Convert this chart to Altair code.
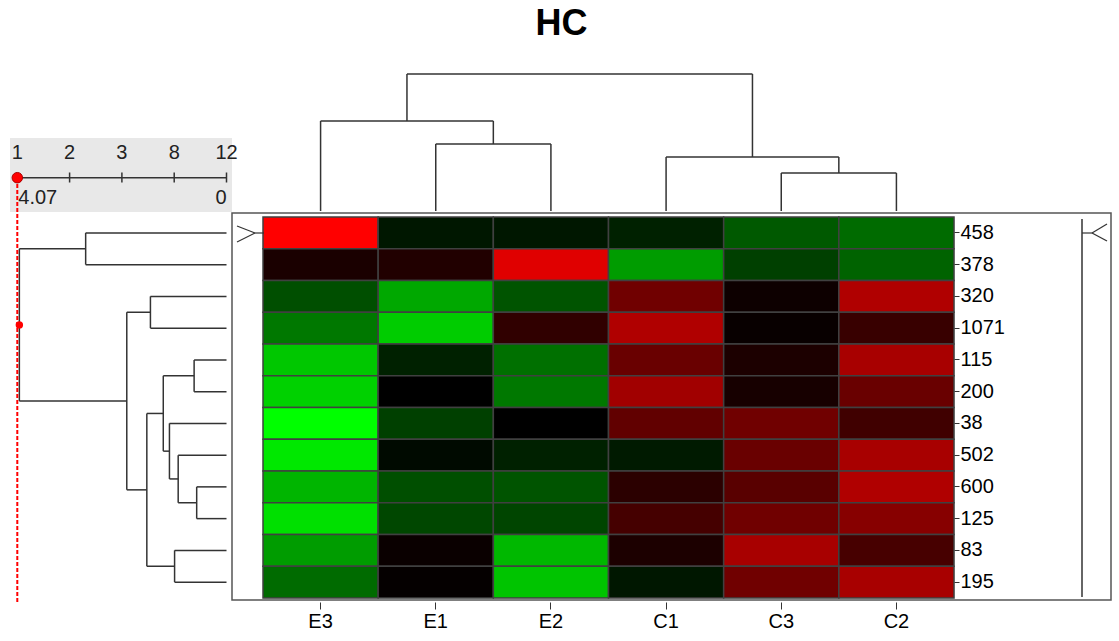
import altair as alt
import pandas as pd

# ---------------- data ----------------
col_labels = ["E3", "E1", "E2", "C1", "C3", "C2"]
row_labels = ["458", "378", "320", "1071", "115", "200", "38", "502", "600", "125", "83", "195"]

# expression values (green < 0 < red), one list per column, rows in row_labels order
E3 = [1.00, 0.10, -0.31, -0.47, -0.78, -0.82, -1.00, -0.91, -0.71, -0.88, -0.61, -0.42]
E1 = [-0.09, 0.13, -0.66, -0.80, -0.13, 0.00, -0.25, -0.04, -0.31, -0.28, 0.04, 0.02]
E2 = [-0.09, 0.88, -0.33, 0.19, -0.44, -0.47, 0.00, -0.13, -0.33, -0.27, -0.72, -0.77]
C1 = [-0.13, -0.61, 0.44, 0.69, 0.41, 0.63, 0.38, -0.10, 0.17, 0.27, 0.11, -0.09]
C3 = [-0.35, -0.25, 0.05, 0.03, 0.11, 0.09, 0.44, 0.41, 0.35, 0.44, 0.66, 0.44]
C2 = [-0.42, -0.39, 0.69, 0.22, 0.66, 0.41, 0.25, 0.66, 0.69, 0.53, 0.28, 0.66]
col_values = [E3, E1, E2, C1, C3, C2]

# dendrograms: (merge height, left, right)
col_tree = (1.00, (0.657, "E3", (0.489, "E1", "E2")),
            (0.394, "C1", (0.277, "C3", "C2")))
row_tree = (4.03, (2.74, "458", "378"),
            (1.94, (1.48, "320", "1071"),
             (1.55, (1.23, (0.63, "115", "200"),
                     (1.11, "38", (0.94, "502", (0.58, "600", "125")))),
              (1.01, "83", "195"))))

cut_max = 4.07
cut_labels = ["1", "2", "3", "8", "12"]
cut_positions = [4.07, 3.0525, 2.035, 1.0175, 0.0]

# ---------------- helpers ----------------
def dendro(tree, order):
    segs = []

    def walk(node):
        if isinstance(node, str):
            return order.index(node) + 0.5, 0.0
        h, a, b = node
        pa, ha = walk(a)
        pb, hb = walk(b)
        segs.append(dict(p1=pa, p2=pa, h1=ha, h2=h))
        segs.append(dict(p1=pb, p2=pb, h1=hb, h2=h))
        segs.append(dict(p1=pa, p2=pb, h1=h, h2=h))
        return (pa + pb) / 2, h

    root = walk(tree)
    return pd.DataFrame(segs), root


heat = pd.DataFrame(
    [dict(col=c, row=r, value=col_values[i][j])
     for i, c in enumerate(col_labels) for j, r in enumerate(row_labels)]
)
top_segs, top_root = dendro(col_tree, col_labels)
left_segs, left_root = dendro(row_tree, row_labels)

W, H = 691, 381
FONT = "Liberation Sans"
LINE = "#333333"
FS = 20

one = pd.DataFrame({"a": [0]})

# distance scale for the left dendrogram & the cut slider
dist_scale = alt.Scale(domain=[0, cut_max], range=[-36.5, -245.7])
row_pos_scale = alt.Scale(domain=[0, len(row_labels)], range=[0, H])

# ---------------- layers ----------------
frame = alt.Chart(one).mark_rect(filled=False, stroke="#555555", strokeWidth=1.5).encode(
    x=alt.value(-31), x2=alt.value(848), y=alt.value(-4), y2=alt.value(383)
)

heatmap = alt.Chart(heat).mark_rect(stroke="#404040", strokeWidth=1.5).encode(
    x=alt.X("col:N", sort=col_labels,
            scale=alt.Scale(paddingInner=0, paddingOuter=0),
            axis=alt.Axis(title=None, orient="bottom", offset=4, tickSize=7, domain=False,
                          labelFontSize=FS, labelFont=FONT, labelColor="black",
                          tickColor=LINE, labelPadding=2, labelAngle=0, grid=False)),
    y=alt.Y("row:N", sort=row_labels,
            scale=alt.Scale(paddingInner=0, paddingOuter=0),
            axis=alt.Axis(title=None, orient="right", tickSize=5, domain=False,
                          labelFontSize=FS, labelFont=FONT, labelColor="black",
                          tickColor=LINE, labelPadding=1, grid=False)),
    color=alt.Color("value:Q",
                    scale=alt.Scale(domain=[-1, 0, 1],
                                    range=["#00ff00", "#000000", "#ff0000"],
                                    interpolate="rgb"),
                    legend=None),
)

top_dendro = alt.Chart(top_segs).mark_rule(color=LINE, strokeWidth=1.5).encode(
    x=alt.X("p1:Q", scale=alt.Scale(domain=[0, len(col_labels)], range=[0, W]), axis=None),
    x2="p2:Q",
    y=alt.Y("h1:Q", scale=alt.Scale(domain=[0, 1], range=[-6, -143]), axis=None),
    y2="h2:Q",
)

left_dendro = alt.Chart(left_segs).mark_rule(color=LINE, strokeWidth=1.5).encode(
    y=alt.Y("p1:Q", scale=row_pos_scale, axis=None),
    y2="p2:Q",
    x=alt.X("h1:Q", scale=dist_scale, axis=None),
    x2="h2:Q",
)

root_df = pd.DataFrame({"h": [left_root[1]], "p": [left_root[0]]})
root_dot = alt.Chart(root_df).mark_point(filled=True, color="#ff0000", size=55, opacity=1).encode(
    x=alt.X("h:Q", scale=dist_scale, axis=None),
    y=alt.Y("p:Q", scale=row_pos_scale, axis=None),
)

# cut slider box
slider_bg = alt.Chart(one).mark_rect(color="#e8e8e8").encode(
    x=alt.value(-253), x2=alt.value(-31), y=alt.value(-79), y2=alt.value(-5)
)
cut_df = pd.DataFrame({"d": cut_positions, "lab": cut_labels})
slider_line = alt.Chart(pd.DataFrame({"d1": [cut_max], "d2": [0.0]})).mark_rule(
    color=LINE, strokeWidth=1.5).encode(
    x=alt.X("d1:Q", scale=dist_scale, axis=None), x2="d2:Q", y=alt.value(-39.3)
)
slider_ticks = alt.Chart(cut_df.iloc[1:]).mark_rule(color=LINE, strokeWidth=1.5).encode(
    x=alt.X("d:Q", scale=dist_scale, axis=None), y=alt.value(-44.5), y2=alt.value(-34.5)
)
slider_text = alt.Chart(cut_df).mark_text(font=FONT, fontSize=FS, color="#222222",
                                          baseline="middle", align="center").encode(
    x=alt.X("d:Q", scale=dist_scale, axis=None), y=alt.value(-64), text="lab:N"
)
range_df = pd.DataFrame({"d": [cut_max, 0.0], "lab": ["4.07", "0"]})
slider_min = alt.Chart(range_df.iloc[:1]).mark_text(font=FONT, fontSize=FS, color="#222222",
                                                    baseline="middle", align="left", dx=1).encode(
    x=alt.X("d:Q", scale=dist_scale, axis=None), y=alt.value(-19), text="lab:N"
)
slider_max = alt.Chart(range_df.iloc[1:]).mark_text(font=FONT, fontSize=FS, color="#222222",
                                                    baseline="middle", align="right").encode(
    x=alt.X("d:Q", scale=dist_scale, axis=None), y=alt.value(-19), text="lab:N"
)
cut_line = alt.Chart(pd.DataFrame({"d": [cut_max]})).mark_rule(
    color="#ff0000", strokeWidth=2, strokeDash=[4, 2]).encode(
    x=alt.X("d:Q", scale=dist_scale, axis=None), y=alt.value(-39), y2=alt.value(387)
)
cut_dot = alt.Chart(pd.DataFrame({"d": [cut_max]})).mark_point(
    filled=True, color="#ff0000", size=110, opacity=1, stroke="#aa0000", strokeWidth=1).encode(
    x=alt.X("d:Q", scale=dist_scale, axis=None), y=alt.value(-39.3)
)

# row markers (">" on the left, "|-<" on the right)
mk = dict(color=LINE, strokeWidth=1.2)
marker_l1 = alt.Chart(one).mark_rule(**mk).encode(
    x=alt.value(-26), y=alt.value(9), x2=alt.value(-8), y2=alt.value(16))
marker_l2 = alt.Chart(one).mark_rule(**mk).encode(
    x=alt.value(-26), y=alt.value(25), x2=alt.value(-8), y2=alt.value(16))
marker_l3 = alt.Chart(one).mark_rule(**mk).encode(
    x=alt.value(-8), y=alt.value(16), x2=alt.value(1), y2=alt.value(16))
marker_r0 = alt.Chart(one).mark_rule(color=LINE, strokeWidth=1.5).encode(
    x=alt.value(819), y=alt.value(2), y2=alt.value(380))
marker_r1 = alt.Chart(one).mark_rule(**mk).encode(
    x=alt.value(829), y=alt.value(16), x2=alt.value(844), y2=alt.value(7))
marker_r2 = alt.Chart(one).mark_rule(**mk).encode(
    x=alt.value(829), y=alt.value(16), x2=alt.value(844), y2=alt.value(24))
marker_r3 = alt.Chart(one).mark_rule(**mk).encode(
    x=alt.value(819), y=alt.value(16), x2=alt.value(829), y2=alt.value(16))

chart = alt.layer(
    slider_bg, frame, heatmap, top_dendro, left_dendro,
    slider_line, slider_ticks, slider_text, slider_min, slider_max,
    cut_line, cut_dot, root_dot,
    marker_l1, marker_l2, marker_l3, marker_r0, marker_r1, marker_r2, marker_r3,
).resolve_scale(
    x="independent", y="independent", color="independent"
).properties(
    width=W, height=H,
    title=alt.TitleParams("HC", fontSize=36, fontWeight="bold", font=FONT,
                          color="black", anchor="middle", offset=30, dx=-47),
    autosize=alt.AutoSizeParams(type="none"),
    padding={"left": 263, "top": 217, "right": 165, "bottom": 43},
).configure_view(stroke=None).configure(background="white")

chart.save("out.html", embed_options={"renderer": "svg", "actions": False})
